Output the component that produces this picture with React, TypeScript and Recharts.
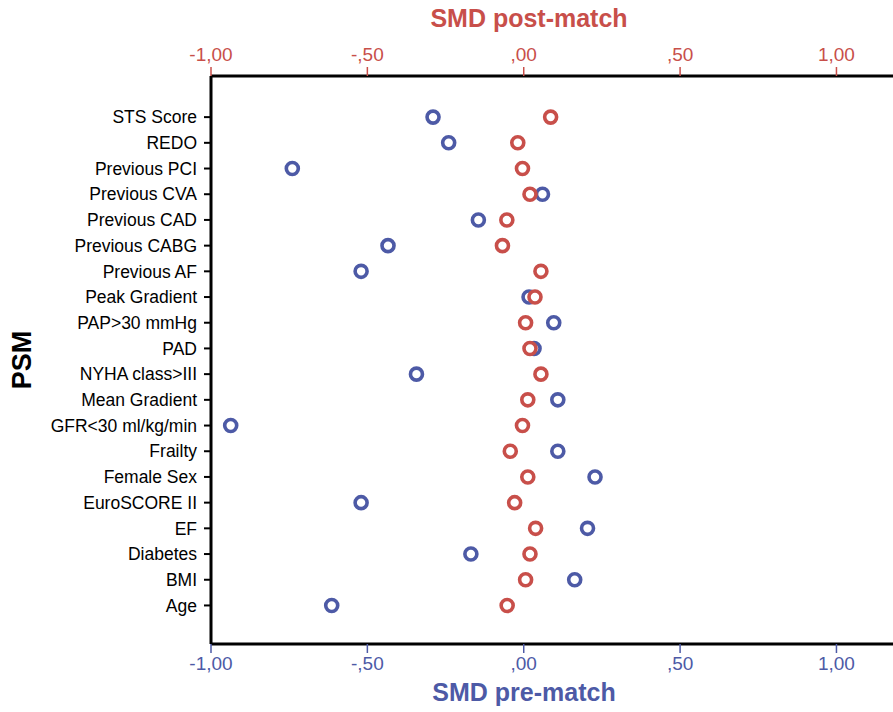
import { Label, Scatter, ScatterChart, XAxis, YAxis } from "recharts";

const RED = "#c84f4a";
const BLUE = "#4d5aa6";
const FONT = "'Liberation Sans', Arial, Helvetica, sans-serif";

// top to bottom, as listed on the axis
const covariates = [
  "STS Score",
  "REDO",
  "Previous PCI",
  "Previous CVA",
  "Previous CAD",
  "Previous CABG",
  "Previous AF",
  "Peak Gradient",
  "PAP>30 mmHg",
  "PAD",
  "NYHA class>III",
  "Mean Gradient",
  "GFR<30 ml/kg/min",
  "Frailty",
  "Female Sex",
  "EuroSCORE II",
  "EF",
  "Diabetes",
  "BMI",
  "Age",
];

const smdPre = [
  -0.29, -0.24, -0.74, 0.06, -0.145, -0.434, -0.52, 0.017, 0.096, 0.033,
  -0.343, 0.109, -0.937, 0.109, 0.228, -0.52, 0.204, -0.169, 0.163, -0.614,
];

const smdPost = [
  0.086, -0.019, -0.004, 0.02, -0.054, -0.068, 0.055, 0.036, 0.006, 0.02,
  0.055, 0.013, -0.004, -0.043, 0.013, -0.029, 0.038, 0.02, 0.006, -0.053,
];

const smdTicks = [-1, -0.5, 0, 0.5, 1];
const smdTickLabels = ["-1,00", "-,50", ",00", ",50", "1,00"];

const rowTicks = covariates.map((_, i) => i);

const data = covariates.map((name, i) => ({
  name,
  idx: i,
  pre: smdPre[i],
  post: smdPost[i],
}));

function Ring({ cx, cy, color }: { cx?: number; cy?: number; color: string }) {
  if (cx == null || cy == null) return null;
  return (
    <circle cx={cx} cy={cy} r={6} fill="#fff" stroke={color} strokeWidth={3.6} />
  );
}

const fmtSmd = (v: number) => smdTickLabels[smdTicks.indexOf(v)] ?? "";

export default function App() {
  return (
    <div
      style={{
        position: "fixed",
        left: 0,
        top: 0,
        width: 893,
        height: 712,
        overflow: "hidden",
        background: "#fff",
        fontFamily: FONT,
      }}
    >
      <ScatterChart
        width={910}
        height={712}
        margin={{ top: 0, right: 11, bottom: 0, left: 0 }}
      >
        <XAxis
          xAxisId="post"
          orientation="top"
          type="number"
          dataKey="post"
          domain={[-1, 1.2]}
          ticks={smdTicks}
          tickFormatter={fmtSmd}
          height={76}
          tickSize={9}
          tickMargin={6}
          tick={{ fill: RED, fontSize: 19, fontFamily: FONT }}
          tickLine={{ stroke: RED, strokeWidth: 1.5 }}
          axisLine={{ stroke: "#000", strokeWidth: 3 }}
          allowDataOverflow
        >
          <Label
            content={({ viewBox }: any) => (
              <text
                x={viewBox.x + 318}
                y={27}
                textAnchor="middle"
                fill={RED}
                fontSize={25}
                fontWeight={700}
                fontFamily={FONT}
              >
                SMD post-match
              </text>
            )}
          />
        </XAxis>
        <XAxis
          xAxisId="pre"
          orientation="bottom"
          type="number"
          dataKey="pre"
          domain={[-1, 1.2]}
          ticks={smdTicks}
          tickFormatter={fmtSmd}
          height={68}
          tickSize={9}
          tickMargin={4}
          tick={{ fill: BLUE, fontSize: 19, fontFamily: FONT }}
          tickLine={{ stroke: BLUE, strokeWidth: 1.5 }}
          axisLine={{ stroke: "#000", strokeWidth: 3 }}
          allowDataOverflow
        >
          <Label
            content={({ viewBox }: any) => (
              <text
                x={viewBox.x + 313}
                y={701}
                textAnchor="middle"
                fill={BLUE}
                fontSize={25}
                fontWeight={700}
                fontFamily={FONT}
              >
                SMD pre-match
              </text>
            )}
          />
        </XAxis>
        <YAxis
          type="number"
          dataKey="idx"
          domain={[-1.6, 20.5]}
          reversed
          ticks={rowTicks}
          interval={0}
          tickFormatter={(i: number) => covariates[i] ?? ""}
          width={211}
          tickSize={7}
          tickMargin={7}
          tick={{ fill: "#000", fontSize: 17.5, fontFamily: FONT }}
          tickLine={{ stroke: "#000", strokeWidth: 2 }}
          axisLine={{ stroke: "#000", strokeWidth: 3 }}
        >
          <Label
            content={({ viewBox }: any) => {
              const cx = 22;
              const cy = viewBox.y + viewBox.height / 2;
              return (
                <text
                  x={cx}
                  y={cy}
                  transform={`rotate(-90 ${cx} ${cy})`}
                  textAnchor="middle"
                  dominantBaseline="central"
                  fill="#000"
                  fontSize={27}
                  fontWeight={700}
                  fontFamily={FONT}
                >
                  PSM
                </text>
              );
            }}
          />
        </YAxis>
        <Scatter
          name="SMD pre-match"
          data={data}
          xAxisId="pre"
          isAnimationActive={false}
          shape={(p: any) => <Ring cx={p.cx} cy={p.cy} color={BLUE} />}
        />
        <Scatter
          name="SMD post-match"
          data={data}
          xAxisId="post"
          isAnimationActive={false}
          shape={(p: any) => <Ring cx={p.cx} cy={p.cy} color={RED} />}
        />
      </ScatterChart>
    </div>
  );
}
